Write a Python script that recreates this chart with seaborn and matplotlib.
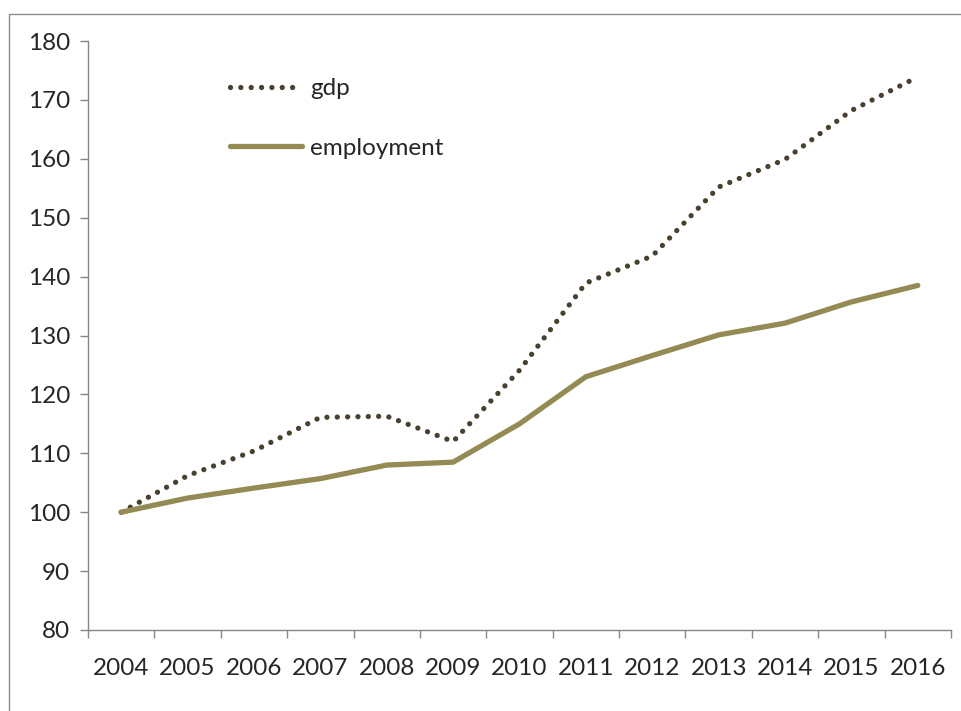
import matplotlib
matplotlib.use("Agg")
import matplotlib.pyplot as plt
from matplotlib.patches import Rectangle
import seaborn as sns
import pandas as pd

years = ["2004", "2005", "2006", "2007", "2008", "2009", "2010",
         "2011", "2012", "2013", "2014", "2015", "2016"]
gdp = [100.0, 106.2, 110.4, 116.1, 116.3, 112.0, 124.1,
       138.9, 143.5, 155.2, 159.9, 168.2, 173.9]
employment = [100.0, 102.4, 104.1, 105.7, 108.0, 108.5, 115.0,
              123.0, 126.6, 130.1, 132.1, 135.7, 138.5]
y_ticks = [80, 90, 100, 110, 120, 130, 140, 150, 160, 170, 180]

df = pd.DataFrame({"idx": range(len(years)), "year": years,
                   "gdp": gdp, "employment": employment})

sns.set_style("white")
plt.rcParams["font.family"] = ["Lato", "DejaVu Sans"]

fig = plt.figure(figsize=(9.62, 7.11), dpi=100)
ax = fig.add_axes([88 / 962, 1 - 630 / 711, (951 - 88) / 962, (630 - 41) / 711])

gdp_color = "#4a4030"
emp_color = "#948a54"

sns.lineplot(data=df, x="idx", y="gdp", ax=ax, color=gdp_color, lw=3.8,
             label="gdp", dashes=False)
ax.lines[-1].set_linestyle((0, (0.01, 1.95)))
ax.lines[-1].set_dash_capstyle("round")
sns.lineplot(data=df, x="idx", y="employment", ax=ax, color=emp_color, lw=3.8,
             label="employment", solid_capstyle="round")

ax.set_xlim(-0.5, len(years) - 0.5)
ax.set_ylim(80, 180)
ax.set_yticks(y_ticks)
ax.set_yticklabels([str(v) for v in y_ticks])
ax.set_xticks([i - 0.5 for i in range(len(years) + 1)])
ax.set_xticklabels([])
ax.set_xticks(range(len(years)), minor=True)
ax.set_xticklabels(years, minor=True)
ax.set_xlabel("")
ax.set_ylabel("")

axis_gray = "#868686"
for side in ["top", "right"]:
    ax.spines[side].set_visible(False)
for side in ["left", "bottom"]:
    ax.spines[side].set_color(axis_gray)
    ax.spines[side].set_linewidth(1.0)

ax.tick_params(axis="y", which="major", direction="out", length=6, width=1,
               color=axis_gray, labelsize=17.5, pad=7, left=True)
ax.tick_params(axis="x", which="major", direction="out", length=6, width=1,
               color=axis_gray, bottom=True)
ax.tick_params(axis="x", which="minor", length=0, labelsize=17.5, pad=20)

leg = ax.legend(loc="upper left", bbox_to_anchor=(230 / 962, 1 - 78 / 711),
                bbox_transform=fig.transFigure, frameon=False, fontsize=17.5,
                handlelength=2.95, handletextpad=0.35, labelspacing=1.6,
                borderaxespad=0, borderpad=0)

fig.add_artist(Rectangle((8.5 / 962, -0.1), 2.0, (711 - 13.5) / 711 + 0.1,
                         transform=fig.transFigure, fill=False,
                         edgecolor="#8c8c8c", lw=1.0))

fig.savefig("out.png", dpi=100, facecolor="white")
